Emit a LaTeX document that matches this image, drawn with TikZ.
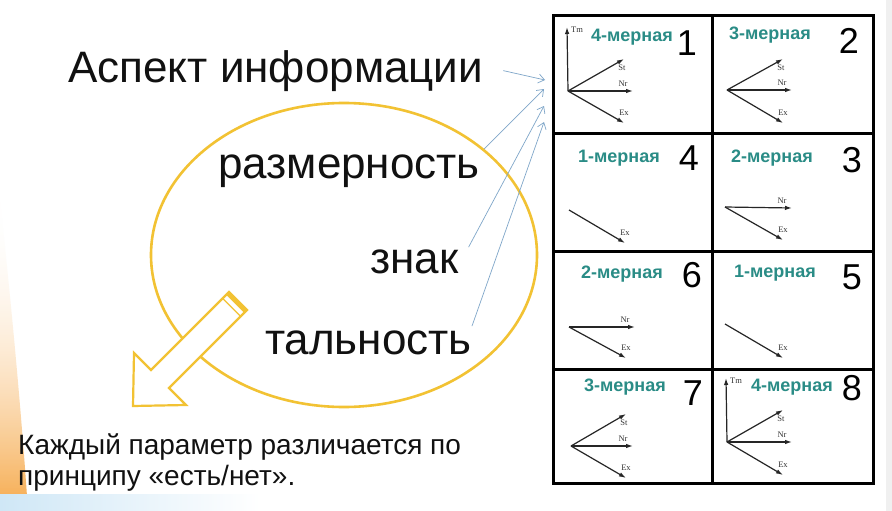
\documentclass[tikz,border=0pt]{standalone}
\usepackage{fontspec}
\setmainfont{Liberation Sans}
\newfontfamily\axisfont{Liberation Serif}
\usetikzlibrary{arrows.meta,fadings}
\definecolor{ink}{HTML}{111111}
\definecolor{ringyellow}{HTML}{F2C233}
\definecolor{tealtext}{HTML}{2A8C86}
\definecolor{linkblue}{HTML}{7FA6C9}
\definecolor{glow}{HTML}{F6A94A}
\definecolor{skyfill}{HTML}{CFE7F6}
\tikzset{
  big/.style={anchor=base west,inner sep=0pt,font=\fontsize{44}{48}\selectfont,text=ink},
  note/.style={anchor=base west,inner sep=0pt,font=\fontsize{28}{31}\selectfont,text=ink},
  ring/.style={draw=ringyellow,line width=2.6pt},
  link/.style={-{Straight Barb[length=6pt,width=9pt]},draw=linkblue,line width=.7pt},
  grid/.style={draw=black,line width=3pt},
  vec/.style={-{Latex[length=7pt,width=4.5pt]},draw=black!85,line width=1.2pt},
  axlab/.style={inner sep=0pt,font=\axisfont\fontsize{8.5}{9}\selectfont,text=black!80},
  dimlab/.style={inner sep=0pt,font=\bfseries\fontsize{18}{20}\selectfont,text=tealtext},
  numlab/.style={inner sep=0pt,font=\fontsize{36}{38}\selectfont,text=black}
}
\newcommand{\cellhead}[5]{%
  \node[dimlab] (#1-dim) at (#2) {#3};
  \node[numlab] (#1-num) at (#4) {#5};
}
\newcommand{\vecto}[5]{%
  \coordinate (#1) at (#3);
  \draw[vec] (#2) -- (#1);
  \path (#1) ++(#5) node[axlab] (#1-lab) {#4};
}

\begin{document}
\begin{tikzpicture}[x=1pt,y=-1pt]
  \useasboundingbox (0,0) rectangle (892,511);
  \fill[white] (0,0) rectangle (892,511);

  % Warm glow and blue band at the left.
  \shade[top color=white,bottom color=glow,path fading=north]
    (0,200) .. controls (12,310) and (22,420) .. (28,511) -- (0,511) -- cycle;
  \shade[left color=skyfill,right color=white] (0,494) rectangle (260,511);
  \fill[black!6] (886,0) rectangle (892,511);

  % Ellipse and the hollow arrow.
  \draw[ring] (344,255) ellipse [x radius=193pt,y radius=152pt];
  \draw[ring,fill=white,line width=2.2pt,line join=miter]
    (133,406) -- (186,405) -- (169,388) -- (247,310) -- (229,292)
    -- (151,370) -- (134,353) -- cycle;
  \fill[ringyellow] (247,310) -- (229,292) -- (226.2,294.8) -- (244.2,312.8) -- cycle;
  \draw[ringyellow,line width=1.2pt] (222.6,298.4) -- (240.6,316.4);

  % Texts.
  \node[big] (asp) at (68,82) {Аспект информации};
  \node[big] (razm) at (218,178) {размерность};
  \node[big] (znak) at (370,273) {знак};
  \node[big] (tal) at (265,354) {тальность};
  \node[note] (par1) at (18,454) {Каждый параметр различается по};
  \node[note] (par2) at (18,485) {принципу «есть/нет».};

  % Table of cases.
  \fill[white] (545,8) rectangle (886,498);
  \draw[grid] (553,16) rectangle (873,483);
  \draw[grid] (712,16) -- (712,483);
  \draw[grid] (553,133) -- (873,133);
  \draw[grid] (553,251) -- (873,251);
  \draw[grid] (553,369) -- (873,369);

  \begin{scope}[shift={(553,16)}]
    \cellhead{c1}{79,21}{4-мерная}{134,27}{1}
    \coordinate (c1o) at (15,75);
    \vecto{c1tm}{c1o}{14,11}{Tm}{10,3}
    \vecto{c1st}{c1o}{71,43}{St}{-2,9}
    \vecto{c1nr}{c1o}{80,75}{Nr}{-10,-7}
    \vecto{c1ex}{c1o}{71,107}{Ex}{0,-10}
  \end{scope}
  \begin{scope}[shift={(712,16)}]
    \cellhead{c2}{58,19}{3-мерная}{137,25}{2}
    \coordinate (c2o) at (15,74);
    \vecto{c2st}{c2o}{71,43}{St}{-2,9}
    \vecto{c2nr}{c2o}{80,74}{Nr}{-10,-7}
    \vecto{c2ex}{c2o}{71,107}{Ex}{0,-10}
  \end{scope}
  \begin{scope}[shift={(553,133)}]
    \cellhead{c4}{66,25}{1-мерная}{136,25}{4}
    \coordinate (c4o) at (16,77);
    \vecto{c4ex}{c4o}{72,110}{Ex}{0,-10}
  \end{scope}
  \begin{scope}[shift={(712,133)}]
    \cellhead{c3}{60,25}{2-мерная}{140,27}{3}
    \coordinate (c3o) at (13,74);
    \vecto{c3nr}{c3o}{80,75}{Nr}{-10,-7}
    \vecto{c3ex}{c3o}{71,107}{Ex}{0,-10}
  \end{scope}
  \begin{scope}[shift={(553,251)}]
    \cellhead{c6}{69,23}{2-мерная}{139,24}{6}
    \coordinate (c6o) at (16,76);
    \vecto{c6nr}{c6o}{82,76}{Nr}{-10,-7}
    \vecto{c6ex}{c6o}{73,107}{Ex}{0,-10}
  \end{scope}
  \begin{scope}[shift={(712,251)}]
    \cellhead{c5}{63,22}{1-мерная}{140,26}{5}
    \coordinate (c5o) at (13,73);
    \vecto{c5ex}{c5o}{71,107}{Ex}{0,-10}
  \end{scope}
  \begin{scope}[shift={(553,369)}]
    \cellhead{c7}{72,18}{3-мерная}{140,24}{7}
    \coordinate (c7o) at (18,77);
    \vecto{c7st}{c7o}{73,45}{St}{-2,9}
    \vecto{c7nr}{c7o}{80,77}{Nr}{-10,-7}
    \vecto{c7ex}{c7o}{73,109}{Ex}{0,-10}
  \end{scope}
  \begin{scope}[shift={(712,369)}]
    \cellhead{c8}{80,18}{4-мерная}{140,19}{8}
    \coordinate (c8o) at (15,73);
    \vecto{c8tm}{c8o}{14,9}{Tm}{10,3}
    \vecto{c8st}{c8o}{71,41}{St}{-2,9}
    \vecto{c8nr}{c8o}{80,73}{Nr}{-10,-7}
    \vecto{c8ex}{c8o}{71,106}{Ex}{0,-10}
  \end{scope}

  % Links from the aspects to the table.
  \coordinate (g1) at (545,80);
  \coordinate (g2) at (544,89);
  \coordinate (g3) at (544,106);
  \coordinate (g4) at (544,122);
  \draw[link] ([xshift=20pt]asp.east) -- (g1);
  \draw[link] ([shift={(4pt,5pt)}]razm.north east) -- (g2);
  \draw[link] ([shift={(10pt,2pt)}]znak.north east) -- (g3);
  \draw[link] ([shift={(0pt,4pt)}]tal.north east) -- (g4);
\end{tikzpicture}
\end{document}
